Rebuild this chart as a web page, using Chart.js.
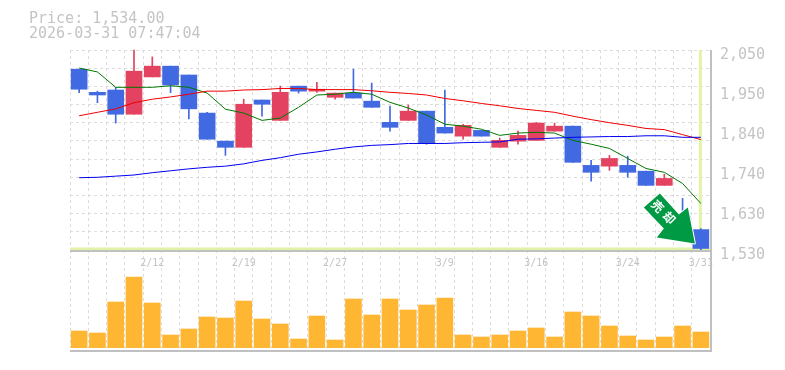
<!DOCTYPE html>
<html>
<head>
<meta charset="utf-8">
<title>Price chart</title>
<script src="https://cdn.jsdelivr.net/npm/chart.js@4"></script>
<style>
  body { margin: 0; background: #fff; }
  #wrap { position: relative; width: 785px; height: 370px; overflow: hidden; }
  canvas { position: absolute; left: 0; top: 0; }
  .head { position: absolute; left: 29px; font: 15px "DejaVu Sans Mono", monospace; color: #c4c4c4; white-space: pre; line-height: 15px; }
</style>
</head>
<body>
<div id="wrap">
  <canvas id="volChart" width="785" height="370"></canvas>
  <canvas id="priceChart" width="785" height="370"></canvas>
  <div class="head" id="priceText" style="top:11px"></div>
  <div class="head" id="timeText" style="top:26px"></div>
</div>
<script>
const priceText = "Price: 1,534.00";
const timeText = "2026-03-31 07:47:04";
const signalText = "売却";

const dates = ["2/6","2/9","2/10","2/11","2/12","2/13","2/16","2/17","2/18","2/19","2/20","2/24","2/25","2/26","2/27","3/2","3/3","3/4","3/5","3/6","3/9","3/10","3/11","3/12","3/13","3/16","3/17","3/18","3/19","3/23","3/24","3/25","3/26","3/27","3/31"];
// the reference labels every fifth day, starting at 2/12
const shownDates = ["2/12","2/19","2/27","3/9","3/16","3/24","3/31"];
const priceLabels = ["2,050","1,950","1,840","1,740","1,630","1,530"];
const priceTicks = [2050,1946,1842,1738,1634,1530];

const opens  = [2000,1940,1946,1883,1980,2008,1985,1886,1813,1797,1920,1867,1956,1943,1927,1938,1917,1862,1867,1891,1849,1826,1841,1797,1813,1815,1839,1852,1750,1748,1750,1735,1698,1617,1583];
const highs  = [2000,1943,1953,2050,2032,2008,1985,1888,1813,1922,1920,1956,1956,1966,1938,2000,1964,1904,1907,1891,1946,1857,1841,1821,1839,1862,1860,1852,1763,1776,1774,1735,1727,1664,1586];
const lows   = [1939,1913,1860,1883,1980,1939,1871,1818,1776,1797,1878,1867,1938,1940,1922,1925,1901,1839,1867,1805,1834,1818,1826,1797,1805,1815,1839,1758,1709,1737,1719,1698,1698,1581,1526];
const closes = [1948,1933,1883,1995,2008,1959,1897,1818,1797,1909,1909,1940,1943,1948,1938,1925,1901,1849,1891,1807,1834,1854,1826,1815,1828,1860,1852,1758,1732,1768,1732,1698,1716,1581,1534];

const maShort = [2003,1993,1953,1953,1953,1957,1953,1938,1896,1886,1867,1873,1901,1933,1935,1940,1935,1914,1899,1881,1857,1852,1844,1828,1834,1836,1834,1815,1805,1794,1768,1742,1732,1703,1651];
const maMid   = [1879,1888,1897,1913,1922,1928,1935,1943,1943,1946,1947,1950,1950,1947,1947,1947,1944,1940,1937,1933,1924,1918,1911,1905,1898,1893,1888,1878,1869,1861,1854,1846,1843,1830,1817];
const maLong  = [1718,1719,1722,1725,1731,1736,1741,1745,1748,1754,1763,1770,1779,1785,1792,1798,1802,1804,1807,1807,1807,1809,1810,1811,1818,1819,1821,1823,1824,1825,1825,1827,1827,1823,1823];

const volumes = [17,15,46,71,45,13,19,31,30,47,29,24,9,32,8,49,33,49,38,43,50,13,11,13,17,20,11,36,32,22,12,8,11,22,16];

const upColor = "#e34260";
const downColor = "#4169e1";
const gridColor = "#dcdcdc";
const borderColor = "#c0c0c0";
const textColor = "#c4c4c4";
const hairColor = "#e2f3a8";
const volColor = "#ffb733";
const signalColor = "#009944";

document.getElementById("priceText").textContent = priceText;
document.getElementById("timeText").textContent = timeText;

const candleColors = opens.map((o, i) => closes[i] >= o ? upColor : downColor);

const verticalGrid = {
  color: gridColor,
  lineWidth: 1,
  drawTicks: false,
  offset: true
};
const dashedAxis = { display: false, dash: [3, 3] };

// light green cross on the last close, right border, arrow on top
const overlay = {
  id: "overlay",
  beforeDatasetsDraw(chart) {
    const { ctx, chartArea: a, scales } = chart;
    const lastIdx = closes.length - 1;
    const px = scales.x.getPixelForValue(lastIdx);
    const py = scales.y.getPixelForValue(closes[lastIdx]);
    ctx.save();
    ctx.fillStyle = hairColor;
    ctx.fillRect(px - 2, a.top, 3, py - a.top);
    ctx.fillRect(a.left, py - 1, a.right - a.left, 3);
    ctx.restore();
  },
  afterDraw(chart) {
    const { ctx, chartArea: a, scales } = chart;
    const lastIdx = closes.length - 1;
    const px = scales.x.getPixelForValue(lastIdx);
    const py = scales.y.getPixelForValue(closes[lastIdx]);
    ctx.save();
    ctx.fillStyle = borderColor;
    ctx.fillRect(a.left, a.bottom, a.right - a.left + 2, 2);
    ctx.fillRect(a.left, a.bottom + 100, a.right - a.left + 2, 2);
    ctx.fillRect(a.right, a.top, 2, 300);
    // arrow sits just left of the last candle, tip pointing at it
    ctx.translate(px - 6, py - 5);
    const shape = [[0,0],[-7,-36],[-16,-29],[-35,-50],[-51,-36],[-31,-15],[-38,-6]];
    ctx.beginPath();
    shape.forEach((p, i) => i ? ctx.lineTo(p[0], p[1]) : ctx.moveTo(p[0], p[1]));
    ctx.closePath();
    ctx.lineJoin = "round";
    ctx.lineWidth = 2;
    ctx.strokeStyle = "#fff";
    ctx.stroke();
    ctx.fillStyle = signalColor;
    ctx.fill();
    ctx.translate(-30, -30);
    ctx.rotate(Math.PI / 4);
    ctx.fillStyle = "#fff";
    ctx.font = "bold 12px 'Noto Sans CJK JP'";
    ctx.letterSpacing = "4px";
    ctx.textAlign = "center";
    ctx.textBaseline = "middle";
    ctx.fillText(signalText, 0, 0);
    ctx.restore();
  }
};

new Chart(document.getElementById("priceChart"), {
  data: {
    labels: dates,
    datasets: [
      { type: "bar", data: opens.map((o, i) => [lows[i], highs[i]]), backgroundColor: candleColors, barThickness: 1, grouped: false, order: 3, clip: 4 },
      { type: "bar", data: opens.map((o, i) => [o, closes[i]]), backgroundColor: candleColors, barThickness: 16, grouped: false, order: 2 },
      { type: "line", data: maLong, borderColor: "#0000ee", borderWidth: 1, pointRadius: 0, order: 1 },
      { type: "line", data: maMid, borderColor: "#ee0000", borderWidth: 1, pointRadius: 0, order: 1 },
      { type: "line", data: maShort, borderColor: "#007700", borderWidth: 1, pointRadius: 0, order: 1 }
    ]
  },
  options: {
    responsive: false,
    animation: false,
    layout: { padding: { left: 70, top: 50, right: 0, bottom: 0 } },
    plugins: { legend: { display: false }, tooltip: { enabled: false } },
    scales: {
      x: {
        offset: true,
        grid: verticalGrid,
        border: dashedAxis,
        afterFit(s) { s.height = 120; },
        ticks: {
          autoSkip: false,
          maxRotation: 0,
          color: textColor,
          font: { family: "DejaVu Sans Mono", size: 10 },
          padding: 7,
          callback(v) {
            const d = dates[v];
            return shownDates.includes(d) ? d : "";
          }
        }
      },
      y: {
        position: "right",
        min: 1530,
        max: 2050,
        afterBuildTicks(s) { s.ticks = priceTicks.map(v => ({ value: v })); },
        grid: { display: false },
        border: { display: false },
        afterFit(s) { s.width = 75; },
        ticks: {
          color: textColor,
          font: { family: "DejaVu Sans Mono", size: 15 },
          padding: 2,
          labelOffset: 5,
          callback(v) { return priceLabels[priceTicks.indexOf(v)]; }
        }
      },
      yGrid: {
        position: "left",
        min: 1530,
        max: 2050,
        afterBuildTicks(s) {
          // 11 dashed rows, not tied to the price labels
          s.ticks = Array.from({ length: 12 }, (_, i) => ({ value: 1530 + i * 520 / 11 }));
        },
        grid: { color: gridColor, drawTicks: false },
        border: dashedAxis,
        afterFit(s) { s.width = 0; },
        ticks: { display: false }
      }
    }
  },
  plugins: [overlay]
});

new Chart(document.getElementById("volChart"), {
  type: "bar",
  data: {
    labels: dates,
    datasets: [{ data: volumes, backgroundColor: volColor, barThickness: 16 }]
  },
  options: {
    responsive: false,
    animation: false,
    layout: { padding: { left: 70, top: 250, right: 75, bottom: 22 } },
    plugins: { legend: { display: false }, tooltip: { enabled: false } },
    scales: {
      x: {
        offset: true,
        grid: verticalGrid,
        border: dashedAxis,
        afterFit(s) { s.height = 0; },
        ticks: { display: false }
      },
      y: {
        display: false,
        min: 0,
        max: 98
      }
    }
  }
});
</script>
</body>
</html>
